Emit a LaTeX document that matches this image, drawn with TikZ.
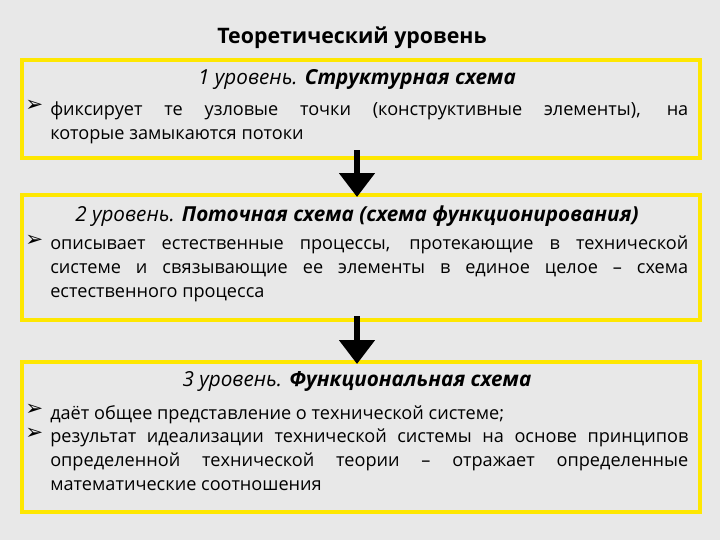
\documentclass[tikz,border=0pt]{standalone}
\usepackage{fontspec}
\setmainfont{Open Sans}
\newfontfamily\sym{DejaVu Sans}
\usetikzlibrary{arrows.meta,positioning}
\begin{document}
\begin{tikzpicture}[x=0.75pt,y=-0.75pt,
  box/.style={draw=yellow!90!orange,line width=2.5pt,inner sep=0pt},
  body/.style={anchor=north west,text width=638*0.75pt,align=justify,inner sep=0pt,font=\fontsize{13.6}{18}\selectfont},
  bul/.style={anchor=north west,inner sep=0pt,font=\sym\fontsize{16}{18}\selectfont},
  head/.style={inner sep=0pt,font=\fontsize{15.5}{16}\selectfont\itshape},
  arr/.style={line width=5pt,-{Triangle[width=26pt,length=18pt]}}]
\fill[gray!18] (0,0) rectangle (720,540);
\useasboundingbox (0,0) rectangle (720,540);
\node[inner sep=0pt,font=\fontsize{16}{16}\selectfont\bfseries] (t) at (352,38) {Теоретический уровень};
% boxes
\draw[box] (22,60) rectangle (700,158);
\draw[box] (22,195) rectangle (700,320); \coordinate (b2t) at (357,197);
\draw[box] (22,362) rectangle (700,512); \coordinate (b3t) at (357,364);
\draw[arr] (357,150) -- (b2t);
\draw[arr] (357,316) -- (b3t);
% box 1
\node[head] (h1) at (357,79) {1 уровень. \textbf{Структурная схема}};
\node[bul] (u1) at (25,100) {➢};
\node[body] (p1) at (50,101) {фиксирует те узловые точки (конструктивные элементы), на\linebreak которые замыкаются потоки};
% box 2
\node[head] (h2) at (357,216) {2 уровень. \textbf{Поточная схема (схема функционирования)}};
\node[bul] (u2) at (25,235) {➢};
\node[body] (p2) at (50,236) {описывает естественные процессы, протекающие в технической системе и связывающие ее элементы в единое целое – схема естественного процесса};
% box 3
\node[head] (h3) at (357,381) {3 уровень. \textbf{Функциональная схема}};
\node[bul] (u3) at (25,404) {➢};
\node[body] (p3) at (50,405) {даёт общее представление о технической системе;};
\node[bul] (u4) at (25,428) {➢};
\node[body] (p4) at (50,429) {результат идеализации технической системы на основе принципов определенной технической теории – отражает определенные математические соотношения};
\end{tikzpicture}
\end{document}
